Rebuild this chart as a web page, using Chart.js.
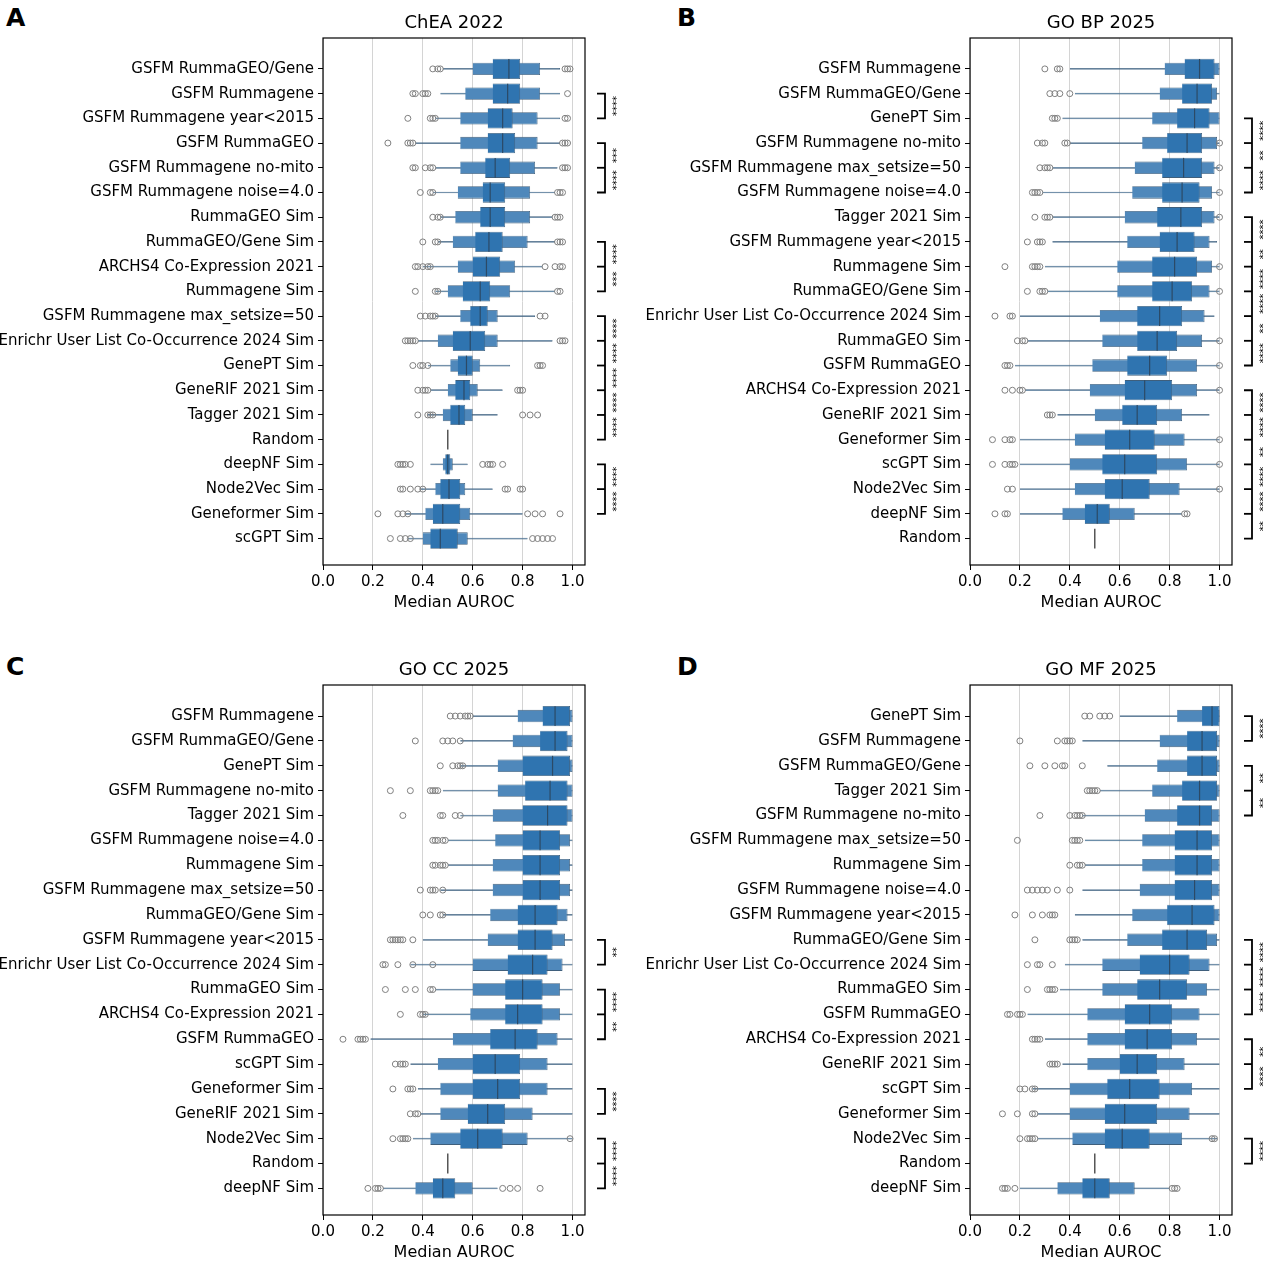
<!DOCTYPE html>
<html><head><meta charset="utf-8">
<script src="https://cdn.jsdelivr.net/npm/chart.js@4"></script>
<style>
body{margin:0;background:#fff;width:1263px;height:1276px;position:relative;overflow:hidden;font-family:"DejaVu Sans",sans-serif}
canvas{position:absolute}
.lt{position:absolute;font:bold 25px "DejaVu Sans",sans-serif}
</style></head><body>
<div class="lt" style="left:6px;top:3px">A</div>
<div class="lt" style="left:677px;top:3px">B</div>
<div class="lt" style="left:6px;top:652px">C</div>
<div class="lt" style="left:677px;top:652px">D</div>
<canvas id="cA" style="left:0;top:0"></canvas>
<canvas id="cB" style="left:640px;top:0"></canvas>
<canvas id="cC" style="left:0;top:650px"></canvas>
<canvas id="cD" style="left:640px;top:650px"></canvas>
<script>
// ---------- Panel A: ChEA 2022 ----------
const A_names=["GSFM RummaGEO/Gene","GSFM Rummagene","GSFM Rummagene year<2015","GSFM RummaGEO","GSFM Rummagene no-mito","GSFM Rummagene noise=4.0","RummaGEO Sim","RummaGEO/Gene Sim","ARCHS4 Co-Expression 2021","Rummagene Sim","GSFM Rummagene max_setsize=50","Enrichr User List Co-Occurrence 2024 Sim","GenePT Sim","GeneRIF 2021 Sim","Tagger 2021 Sim","Random","deepNF Sim","Node2Vec Sim","Geneformer Sim","scGPT Sim"];
const A_med=[.745,.74,.72,.72,.69,.67,.67,.665,.655,.63,.63,.59,.575,.565,.545,.5,.5,.505,.48,.47];
const A_box=[[.68,.79],[.68,.79],[.66,.76],[.66,.77],[.65,.75],[.64,.73],[.63,.73],[.61,.72],[.60,.71],[.56,.67],[.59,.66],[.52,.65],[.54,.60],[.53,.59],[.51,.57],null,[.49,.51],[.47,.55],[.44,.55],[.43,.54]];
const A_l2=[[.60,.87],[.57,.87],[.55,.86],[.55,.86],[.55,.85],[.54,.83],[.53,.83],[.52,.82],[.54,.77],[.50,.75],[.55,.70],[.46,.70],[.51,.63],[.50,.62],[.48,.60],null,[.48,.52],[.45,.57],[.41,.59],[.40,.58]];
const A_tail=[[.48,.95],[.47,.95],[.45,.95],[.37,.95],[.45,.94],[.44,.93],[.47,.92],[.46,.93],[.40,.88],[.45,.93],[.45,.85],[.38,.92],[.42,.75],[.43,.72],[.42,.70],null,[.43,.58],[.39,.68],[.33,.80],[.34,.82]];
const A_out=[[.44,.46,.47,.97,.98,.99],[.36,.37,.40,.41,.42,.98],[.34,.43,.44,.45,.97,.98],[.26,.34,.35,.36,.96,.97,.98],[.36,.37,.41,.43,.44,.96,.97,.98],[.39,.43,.44,.94,.95,.96],[.44,.46,.47,.93,.94,.95],[.40,.45,.46,.94,.95,.96],[.37,.38,.40,.42,.43,.89,.93,.95,.96],[.37,.45,.46,.94,.95],[.39,.41,.43,.44,.45,.87,.89],[.33,.34,.35,.36,.37,.95,.96,.97],[.36,.39,.40,.42,.86,.87,.88],[.38,.40,.41,.42,.78,.79,.80],[.38,.42,.43,.44,.80,.83,.86],[],[.30,.31,.32,.33,.35,.64,.66,.67,.68,.72],[.31,.32,.35,.38,.40,.73,.74,.79,.80],[.22,.30,.32,.34,.82,.85,.88,.95],[.27,.31,.33,.35,.84,.86,.88,.90,.92]];
const A_sig=[[1,2,["****"]],[3,5,["***","****"]],[7,9,["****","***"]],[10,15,["****","****","****","****","****"]],[16,18,["****","****"]]];

// ---------- Panel B: GO BP 2025 ----------
const B_names=["GSFM Rummagene","GSFM RummaGEO/Gene","GenePT Sim","GSFM Rummagene no-mito","GSFM Rummagene max_setsize=50","GSFM Rummagene noise=4.0","Tagger 2021 Sim","GSFM Rummagene year<2015","Rummagene Sim","RummaGEO/Gene Sim","Enrichr User List Co-Occurrence 2024 Sim","RummaGEO Sim","GSFM RummaGEO","ARCHS4 Co-Expression 2021","GeneRIF 2021 Sim","Geneformer Sim","scGPT Sim","Node2Vec Sim","deepNF Sim","Random"];
const B_med=[.92,.91,.90,.87,.856,.85,.845,.83,.82,.81,.76,.75,.72,.70,.67,.64,.62,.61,.51,.5];
const B_box=[[.86,.98],[.85,.97],[.83,.96],[.79,.93],[.77,.93],[.77,.92],[.75,.93],[.76,.90],[.73,.91],[.73,.89],[.67,.85],[.67,.83],[.63,.79],[.62,.81],[.61,.75],[.54,.74],[.53,.75],[.54,.72],[.46,.56],null];
const B_l2=[[.78,1.0],[.76,.99],[.73,1.0],[.69,.99],[.66,.98],[.65,.97],[.62,.98],[.63,.96],[.59,.97],[.59,.96],[.52,.94],[.53,.93],[.49,.91],[.48,.91],[.50,.85],[.42,.86],[.40,.87],[.42,.84],[.37,.66],null];
const B_tail=[[.40,1.0],[.42,1.0],[.37,1.0],[.40,1.0],[.33,1.0],[.29,1.0],[.33,1.0],[.33,.99],[.30,1.0],[.31,1.0],[.20,.98],[.23,1.0],[.18,1.0],[.22,1.0],[.35,.96],[.20,1.0],[.20,1.0],[.20,1.0],[.20,.85],null];
const B_out=[[.30,.35,.36],[.32,.34,.36,.40],[.33,.34,.35],[.27,.29,.30,.38,.39,1.0],[.28,.30,.31,.32,1.0],[.25,.26,.27,.28,1.0],[.26,.30,.31,.32,1.0],[.23,.27,.28,.29],[.14,.25,.26,.27,.28,1.0],[.23,.28,.29,.30,1.0],[.10,.16,.17],[.19,.21,.22,1.0],[.14,.15,.16,1.0],[.14,.17,.20,.21,1.0],[.31,.32,.33],[.09,.14,.16,.17,1.0],[.09,.14,.16,.17,.18,1.0],[.15,.17,1.0],[.10,.14,.15,.86,.87],[]];
const B_sig=[[2,5,["****","**","****"]],[6,12,["****","**","****","****","**","****"]],[13,19,["****","****","**","****","****","**"]]];

// ---------- Panel C: GO CC 2025 ----------
const C_names=["GSFM Rummagene","GSFM RummaGEO/Gene","GenePT Sim","GSFM Rummagene no-mito","Tagger 2021 Sim","GSFM Rummagene noise=4.0","Rummagene Sim","GSFM Rummagene max_setsize=50","RummaGEO/Gene Sim","GSFM Rummagene year<2015","Enrichr User List Co-Occurrence 2024 Sim","RummaGEO Sim","ARCHS4 Co-Expression 2021","GSFM RummaGEO","scGPT Sim","Geneformer Sim","GeneRIF 2021 Sim","Node2Vec Sim","Random","deepNF Sim"];
const C_med=[.93,.93,.92,.91,.90,.87,.87,.87,.85,.85,.84,.80,.78,.77,.69,.70,.66,.62,.5,.48];
const C_box=[[.88,.99],[.87,.98],[.80,.99],[.81,.98],[.80,.98],[.80,.95],[.80,.95],[.80,.95],[.78,.94],[.78,.92],[.74,.90],[.73,.88],[.73,.88],[.67,.86],[.60,.79],[.60,.79],[.58,.73],[.55,.72],null,[.44,.53]];
const C_l2=[[.78,1.0],[.76,1.0],[.70,1.0],[.70,1.0],[.68,1.0],[.69,.99],[.68,.99],[.68,.99],[.67,.98],[.66,.97],[.60,.96],[.60,.95],[.59,.95],[.52,.94],[.46,.90],[.47,.90],[.47,.84],[.43,.82],null,[.37,.60]];
const C_tail=[[.60,1.0],[.55,1.0],[.55,1.0],[.48,1.0],[.55,1.0],[.50,1.0],[.50,1.0],[.47,1.0],[.48,1.0],[.40,1.0],[.35,1.0],[.45,1.0],[.40,1.0],[.19,1.0],[.35,1.0],[.38,1.0],[.39,1.0],[.36,1.0],null,[.24,.70]];
const C_out=[[.51,.53,.55,.57,.58,.59],[.37,.48,.50,.52,.55],[.47,.52,.54,.55,.56],[.27,.35,.43,.44,.45,.46],[.32,.47,.48,.53,.55],[.44,.45,.46,.48,.49],[.44,.45,.47,.48,.49],[.39,.43,.44,.45,.48],[.40,.43,.47,.48],[.27,.28,.29,.30,.31,.32,.36],[.24,.25,.30,.36,.44],[.25,.33,.37,.43,.44],[.31,.39,.40,.41],[.08,.14,.15,.16,.17],[.29,.31,.32,.33],[.28,.34,.35,.36],[.35,.37,.38],[.28,.31,.32,.33,.34,.99],[],[.18,.21,.22,.23,.72,.75,.78,.87]];
const C_sig=[[9,10,["**"]],[11,13,["****","**"]],[15,16,["****"]],[17,19,["****","****"]]];

// ---------- Panel D: GO MF 2025 ----------
const D_names=["GenePT Sim","GSFM Rummagene","GSFM RummaGEO/Gene","Tagger 2021 Sim","GSFM Rummagene no-mito","GSFM Rummagene max_setsize=50","Rummagene Sim","GSFM Rummagene noise=4.0","GSFM Rummagene year<2015","RummaGEO/Gene Sim","Enrichr User List Co-Occurrence 2024 Sim","RummaGEO Sim","GSFM RummaGEO","ARCHS4 Co-Expression 2021","GeneRIF 2021 Sim","scGPT Sim","Geneformer Sim","Node2Vec Sim","Random","deepNF Sim"];
const D_med=[.97,.93,.93,.92,.92,.91,.91,.90,.89,.87,.80,.76,.72,.71,.67,.64,.62,.61,.5,.50];
const D_box=[[.93,1.0],[.87,.99],[.87,.99],[.85,.99],[.83,.97],[.82,.97],[.82,.97],[.82,.97],[.79,.98],[.77,.95],[.68,.88],[.67,.87],[.62,.81],[.62,.81],[.60,.75],[.55,.76],[.54,.75],[.54,.72],null,[.45,.56]];
const D_l2=[[.83,1.0],[.76,1.0],[.75,1.0],[.73,1.0],[.70,1.0],[.69,1.0],[.69,1.0],[.68,1.0],[.65,1.0],[.63,.99],[.53,.96],[.53,.95],[.47,.92],[.47,.91],[.47,.86],[.40,.89],[.40,.88],[.41,.85],null,[.35,.66]];
const D_tail=[[.60,1.0],[.45,1.0],[.55,1.0],[.52,1.0],[.45,1.0],[.46,1.0],[.46,1.0],[.45,1.0],[.42,1.0],[.45,1.0],[.38,1.0],[.36,1.0],[.23,1.0],[.30,1.0],[.37,1.0],[.25,1.0],[.27,1.0],[.27,.99],null,[.20,.80]];
const D_out=[[.46,.48,.52,.54,.56],[.20,.35,.38,.39,.40,.41],[.24,.30,.34,.37,.38,.45],[.47,.48,.49,.50,.51],[.28,.40,.42,.43,.44,.45],[.19,.41,.42,.43,.44],[.40,.43,.44,.45],[.23,.25,.27,.29,.31,.35,.40],[.18,.25,.29,.32,.33,.34],[.26,.40,.41,.42,.43],[.23,.27,.28,.33],[.23,.31,.32,.33,.34],[.15,.16,.19,.20,.21],[.25,.26,.27,.28],[.32,.33,.34,.35],[.20,.22,.25,.26],[.13,.19,.25,.26],[.20,.23,.24,.25,.26,.97,.98],[],[.13,.14,.15,.18,.81,.82,.83]];
const D_sig=[[0,1,["****"]],[2,4,["**","**"]],[9,12,["****","****","****"]],[13,15,["**","****"]],[17,18,["****"]]];

const xTicks=[0,0.2,0.4,0.6,0.8,1.0];
const FONT='"DejaVu Sans", sans-serif';

function fb(arr){const o=[];arr.forEach((v,i)=>{if(v)o.push({y:i,x:v});});return o;}

function makePanel(id,w,h,title,names,med,box,l2,tail,out,sig,yw,padTop,padRight,padBottom){
  const cv=document.getElementById(id);
  cv.width=w;cv.height=h;cv.style.width=w+'px';cv.style.height=h+'px';
  const pts=[];out.forEach((a,i)=>a.forEach(v=>pts.push({x:v,y:i})));
  const edge='#3f5f7c';
  const deco={id:'deco'+id,
    beforeDatasetsDraw(c){
      const ctx=c.ctx,a=c.chartArea;ctx.save();ctx.strokeStyle='#000';ctx.lineWidth=1.2;
      ctx.strokeRect(a.left,a.top,a.right-a.left,a.bottom-a.top);ctx.restore();
    },
    afterDatasetsDraw(c){
      const ctx=c.ctx,xs=c.scales.x,ys=c.scales.y,a=c.chartArea;
      ctx.save();
      const hh=(ys.getPixelForValue(1)-ys.getPixelForValue(0));
      med.forEach((m,i)=>{
        const y=ys.getPixelForValue(i),x=xs.getPixelForValue(m);
        ctx.strokeStyle=box[i]?'#2c4a66':'#555';ctx.lineWidth=box[i]?1.2:1.5;
        ctx.beginPath();ctx.moveTo(x,y-hh*0.4);ctx.lineTo(x,y+hh*0.4);ctx.stroke();
      });
      ctx.fillStyle='#000';ctx.font='18px '+FONT;ctx.textAlign='center';ctx.textBaseline='bottom';
      ctx.fillText(title,(a.left+a.right)/2,a.top-6);
      const bx=a.right+20;
      sig.forEach(([s,e,labs])=>{
        ctx.strokeStyle='#000';ctx.lineWidth=1.8;
        const y0=ys.getPixelForValue(s),y1=ys.getPixelForValue(e);
        ctx.beginPath();ctx.moveTo(bx-8,y0);ctx.lineTo(bx,y0);ctx.lineTo(bx,y1);ctx.lineTo(bx-8,y1);ctx.stroke();
        for(let k=s+1;k<e;k++){const y=ys.getPixelForValue(k);ctx.beginPath();ctx.moveTo(bx-8,y);ctx.lineTo(bx,y);ctx.stroke();}
        labs.forEach((t,k)=>{
          const ym=ys.getPixelForValue(s+k+0.5);
          ctx.save();ctx.translate(bx+7,ym);ctx.rotate(Math.PI/2);
          ctx.font='10px '+FONT;ctx.textAlign='center';ctx.textBaseline='middle';ctx.fillStyle='#000';
          ctx.fillText(t,0,0);ctx.restore();
        });
      });
      ctx.restore();
    }};
  new Chart(cv,{
    data:{datasets:[
      {type:'bar',indexAxis:'y',grouped:false,data:fb(tail),backgroundColor:'#4d7699',borderColor:edge,borderWidth:0.6,barPercentage:0.07,categoryPercentage:1,order:4},
      {type:'bar',indexAxis:'y',grouped:false,data:fb(l2),backgroundColor:'#4f88bb',borderColor:edge,borderWidth:0.8,barPercentage:0.5,categoryPercentage:1,order:3},
      {type:'bar',indexAxis:'y',grouped:false,data:fb(box),backgroundColor:'#2f74b0',borderColor:edge,borderWidth:0.8,barPercentage:0.82,categoryPercentage:1,order:2},
      {type:'scatter',data:pts,pointRadius:3,pointBorderWidth:1,pointBorderColor:'#7f7f7f',pointBackgroundColor:'rgba(255,255,255,0)',order:1}
    ]},
    plugins:[deco],
    options:{responsive:false,animation:false,
      layout:{padding:{top:padTop,right:padRight,left:0,bottom:padBottom}},
      plugins:{legend:{display:false},tooltip:{enabled:false}},
      scales:{
        x:{type:'linear',min:0,max:1.05,offset:false,
          afterBuildTicks(s){s.ticks=xTicks.map(v=>({value:v}));},
          afterFit(s){s.height=47;},
          ticks:{callback:v=>v.toFixed(1),color:'#000',font:{family:FONT,size:15},padding:3},
          grid:{color:'#d4d4d4',lineWidth:1,tickColor:'#000',tickLength:5,offset:false},
          border:{display:false},
          title:{display:true,text:'Median AUROC',color:'#000',font:{family:FONT,size:16},padding:{top:0,bottom:0}}},
        y:{type:'linear',reverse:true,min:-1.25,max:20.07,offset:false,
          afterBuildTicks(s){s.ticks=names.map((n,i)=>({value:i}));},
          afterFit(s){s.width=yw;},
          ticks:{callback:(v)=>names[v],color:'#000',font:{family:FONT,size:15},padding:4,autoSkip:false},
          grid:{drawOnChartArea:false,tickColor:'#000',tickLength:5,offset:false},
          border:{display:false}}
      }}
  });
}
makePanel('cA',640,630,'ChEA 2022',A_names,A_med,A_box,A_l2,A_tail,A_out,A_sig,323,38,55,18);
makePanel('cB',623,630,'GO BP 2025',B_names,B_med,B_box,B_l2,B_tail,B_out,B_sig,330,38,31,18);
makePanel('cC',640,626,'GO CC 2025',C_names,C_med,C_box,C_l2,C_tail,C_out,C_sig,323,35,55,14);
makePanel('cD',623,626,'GO MF 2025',D_names,D_med,D_box,D_l2,D_tail,D_out,D_sig,330,35,31,14);
</script></body></html>
